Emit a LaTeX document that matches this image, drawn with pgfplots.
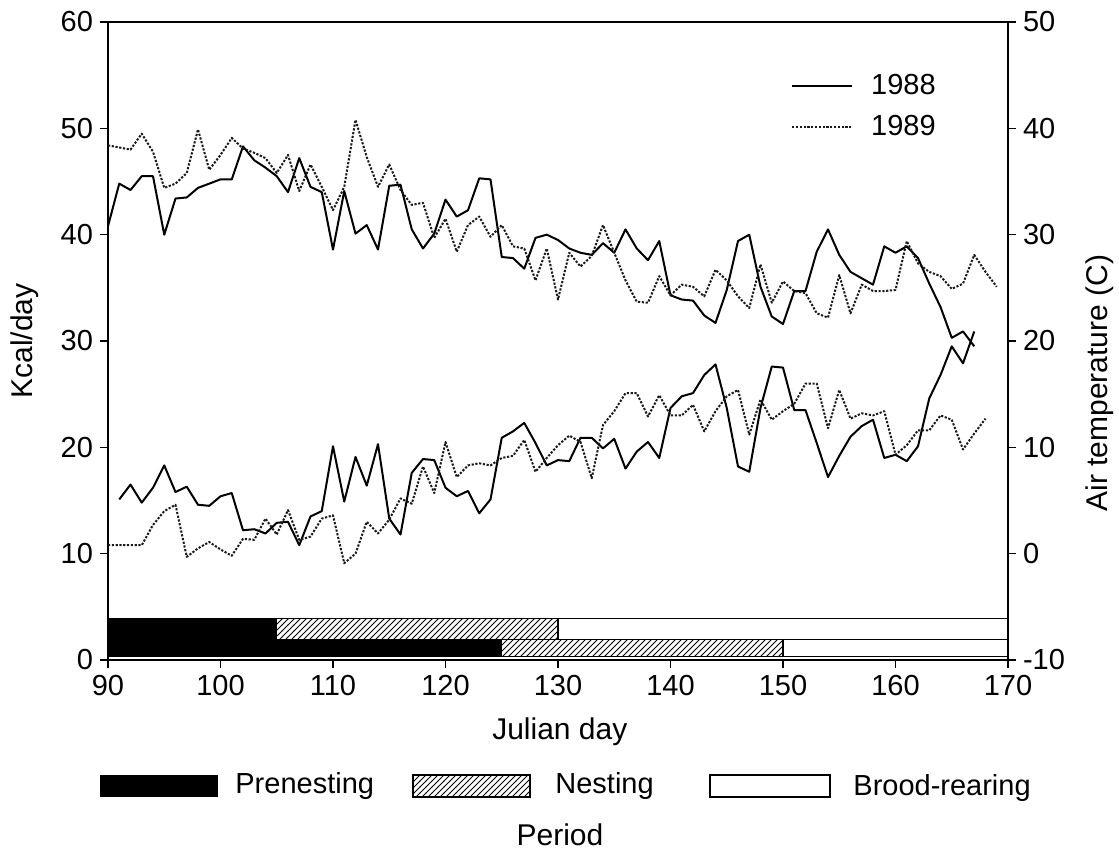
\documentclass[border=0pt]{standalone}
\usepackage{fontspec}
\setmainfont{Liberation Sans}
\usepackage{pgfplots}
\usepackage{pgfplotstable}
\pgfplotsset{compat=1.18}
\usetikzlibrary{patterns}

\pgfplotstableread{
day kcal
90 40.8
91 44.8
92 44.2
93 45.5
94 45.5
95 40.0
96 43.4
97 43.5
98 44.4
99 44.8
100 45.2
101 45.2
102 48.3
103 47.0
104 46.3
105 45.5
106 44.0
107 47.2
108 44.5
109 44.0
110 38.6
111 44.1
112 40.1
113 40.9
114 38.6
115 44.6
116 44.7
117 40.5
118 38.7
119 40.1
120 43.3
121 41.7
122 42.3
123 45.3
124 45.2
125 37.9
126 37.8
127 36.8
128 39.7
129 40.0
130 39.5
131 38.7
132 38.3
133 38.1
134 39.2
135 38.3
136 40.5
137 38.7
138 37.6
139 39.4
140 34.3
141 33.9
142 33.8
143 32.4
144 31.7
145 34.8
146 39.4
147 40.0
148 35.1
149 32.3
150 31.6
151 34.7
152 34.7
153 38.4
154 40.5
155 38.1
156 36.5
157 35.9
158 35.3
159 38.9
160 38.3
161 38.9
162 37.8
163 35.4
164 33.2
165 30.3
166 30.9
167 29.5
}\kcalA

\pgfplotstableread{
day kcal
90 48.4
91 48.2
92 48.0
93 49.5
94 47.8
95 44.4
96 44.8
97 45.8
98 49.9
99 46.1
100 47.5
101 49.1
102 48.1
103 47.7
104 47.2
105 45.8
106 47.5
107 44.1
108 46.6
109 44.5
110 42.3
111 44.5
112 50.8
113 47.3
114 44.5
115 46.6
116 44.2
117 42.8
118 43.0
119 39.7
120 41.5
121 38.4
122 40.9
123 41.7
124 39.8
125 40.9
126 38.9
127 38.7
128 35.7
129 38.7
130 33.9
131 38.3
132 37.0
133 38.0
134 40.9
135 38.3
136 35.7
137 33.7
138 33.6
139 36.1
140 34.3
141 35.3
142 35.1
143 34.2
144 36.7
145 35.7
146 34.2
147 33.1
148 37.2
149 33.6
150 35.6
151 34.7
152 34.5
153 32.6
154 32.2
155 36.2
156 32.6
157 35.3
158 34.7
159 34.7
160 34.8
161 39.4
162 37.3
163 36.5
164 36.1
165 34.9
166 35.4
167 38.1
168 36.5
169 35.1
}\kcalB

\pgfplotstableread{
day temp
91 5.1
92 6.5
93 4.8
94 6.2
95 8.3
96 5.8
97 6.3
98 4.6
99 4.5
100 5.4
101 5.7
102 2.2
103 2.3
104 1.9
105 2.9
106 3.0
107 0.8
108 3.5
109 4.0
110 10.1
111 4.9
112 9.1
113 6.4
114 10.3
115 3.3
116 1.8
117 7.6
118 8.9
119 8.8
120 6.2
121 5.4
122 5.9
123 3.8
124 5.1
125 10.9
126 11.5
127 12.3
128 10.4
129 8.3
130 8.8
131 8.7
132 10.9
133 10.9
134 9.9
135 10.8
136 8.0
137 9.6
138 10.5
139 9.0
140 13.7
141 14.8
142 15.1
143 16.8
144 17.8
145 13.7
146 8.2
147 7.7
148 13.7
149 17.6
150 17.5
151 13.5
152 13.5
153 10.4
154 7.2
155 9.2
156 11.0
157 12.0
158 12.6
159 9.0
160 9.3
161 8.7
162 10.1
163 14.6
164 16.8
165 19.5
166 17.9
167 20.9
}\tempA

\pgfplotstableread{
day temp
90 0.8
91 0.8
92 0.8
93 0.8
94 2.7
95 4.0
96 4.6
97 -0.3
98 0.5
99 1.1
100 0.4
101 -0.2
102 1.4
103 1.3
104 3.3
105 1.8
106 4.1
107 1.3
108 1.6
109 3.3
110 3.6
111 -0.9
112 0.0
113 3.0
114 1.9
115 3.2
116 5.2
117 4.7
118 8.2
119 5.7
120 10.5
121 7.2
122 8.3
123 8.5
124 8.3
125 9.0
126 9.2
127 10.7
128 7.7
129 9.0
130 10.2
131 11.1
132 10.5
133 7.1
134 12.1
135 13.4
136 15.1
137 15.1
138 12.9
139 14.9
140 13.0
141 13.0
142 14.0
143 11.5
144 13.4
145 14.8
146 15.4
147 11.2
148 14.5
149 12.6
150 13.4
151 14.1
152 16.0
153 16.0
154 11.8
155 15.4
156 12.7
157 13.2
158 13.0
159 13.4
160 9.3
161 10.2
162 11.6
163 11.6
164 13.0
165 12.6
166 9.8
167 11.3
168 12.7
}\tempB

\newcommand{\tickfont}{\fontsize{14.5}{17}\selectfont}
\newcommand{\labfont}{\fontsize{15}{18}\selectfont}

\pgfplotsset{
  common/.style={
    scale only axis, width=450pt, height=319pt,
    xmin=90, xmax=170,
    tick align=outside, major tick length=4pt,
    axis line style={line width=0.8pt},
    every tick/.style={black, line width=0.8pt},
    tick label style={font=\tickfont},
    /pgf/number format/assume math mode=true,
    label style={font=\labfont},
  },
  y88/.style={black, line width=1pt, line join=round},
  y89/.style={black!90, line width=1pt, dash pattern=on 1.1pt off 0.8pt, line join=round},
}

\begin{document}
\begin{tikzpicture}
\begin{axis}[common, name=main,
  ymin=0, ymax=60,
  xtick={90,100,...,170}, ytick={0,10,...,60},
  xtick pos=lower, ytick pos=left,
  xlabel={Julian day}, ylabel={Kcal/day},
  xlabel style={at={(axis description cs:0.502,-0.112)}, anchor=center},
  ylabel style={at={(axis description cs:-0.092,0.5)}, anchor=center},
  legend style={at={(axis description cs:0.752,0.925)}, anchor=north west,
    draw=none, fill=none, font=\tickfont, row sep=9pt,
    nodes={inner xsep=9pt, inner ysep=0pt}},
  legend cell align=left,
  legend image code/.code={\draw[#1] (0pt,0pt) -- (30pt,0pt);},
]
% period bars: 1988 (upper row)
\addplot[fill=black, draw=black, line width=0.6pt, forget plot] coordinates {(90,1.9) (105,1.9) (105,3.9) (90,3.9)} -- cycle;
\addplot[pattern=north east lines, draw=black, line width=0.6pt, forget plot] coordinates {(105,1.9) (130,1.9) (130,3.9) (105,3.9)} -- cycle;
\addplot[fill=white, draw=black, line width=0.6pt, forget plot] coordinates {(130,1.9) (170,1.9) (170,3.9) (130,3.9)} -- cycle;
% period bars: 1989 (lower row)
\addplot[fill=black, draw=black, line width=0.6pt, forget plot] coordinates {(90,0.3) (125,0.3) (125,1.9) (90,1.9)} -- cycle;
\addplot[pattern=north east lines, draw=black, line width=0.6pt, forget plot] coordinates {(125,0.3) (150,0.3) (150,1.9) (125,1.9)} -- cycle;
\addplot[fill=white, draw=black, line width=0.6pt, forget plot] coordinates {(150,0.3) (170,0.3) (170,1.9) (150,1.9)} -- cycle;

\addplot[y88] table[x=day, y=kcal] {\kcalA};
\addlegendentry{1988}
\addplot[y89] table[x=day, y=kcal] {\kcalB};
\addlegendentry{1989}
\end{axis}

\begin{axis}[common,
  ymin=-10, ymax=50, ytick={-10,0,...,50},
  axis x line=none, axis y line*=right,
  ylabel={Air temperature (C)},
  ylabel style={at={(axis description cs:1.102,0.434)}, anchor=center},
]
\addplot[y88] table[x=day, y=temp] {\tempA};
\addplot[y89] table[x=day, y=temp] {\tempB};
\end{axis}

\begin{scope}[shift={(main.south west)}, x=0.5pt, y=0.5pt]
  \fill[black] (-8,-115) rectangle (110,-137);
  \draw[pattern=north east lines, line width=0.6pt] (305,-115) rectangle (422,-137);
  \draw[line width=0.6pt] (602,-115) rectangle (722,-137);
  \node[anchor=west, inner sep=0pt, font=\tickfont] at (127,-126) {Prenesting};
  \node[anchor=west, inner sep=0pt, font=\tickfont] at (447,-126) {Nesting};
  \node[anchor=west, inner sep=0pt, font=\tickfont] at (745,-128) {Brood-rearing};
  \node[font=\labfont] at (452,-175) {Period};
\end{scope}

\pgfresetboundingbox
\path (main.south west) ++(-54pt,-96.5pt) rectangle ++(559.5pt,426.5pt);
\end{tikzpicture}
\end{document}
